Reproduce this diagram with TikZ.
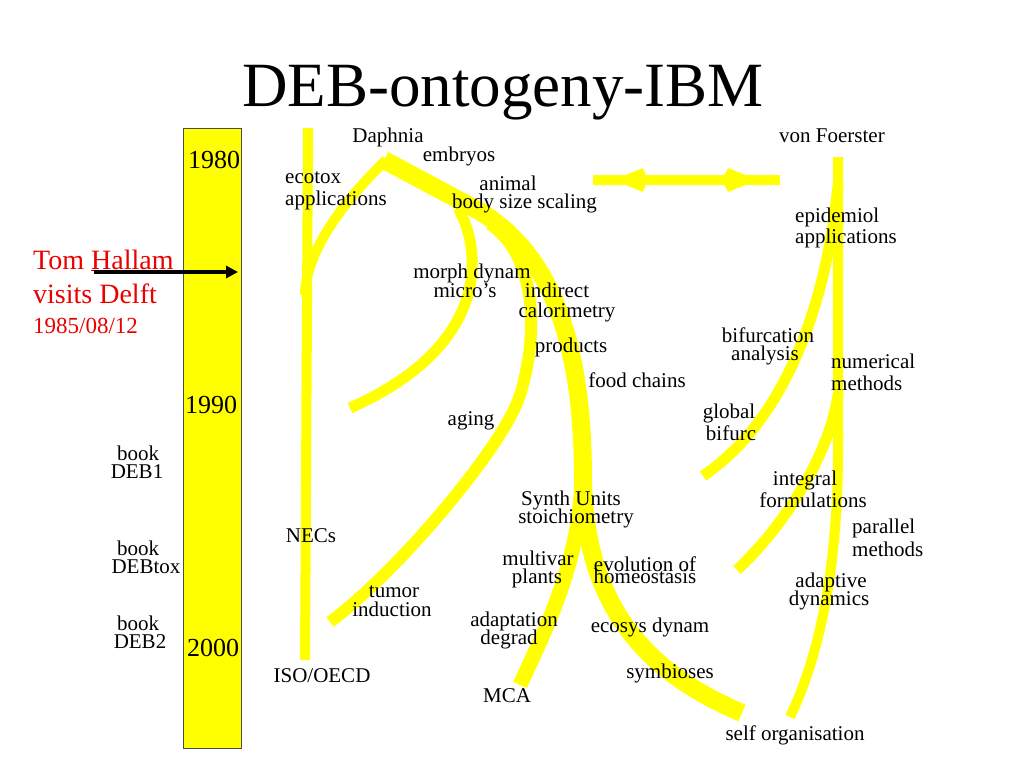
\documentclass[tikz,border=0pt]{standalone}
\usepackage{fontspec}
\setmainfont{Liberation Serif}
\usetikzlibrary{arrows.meta}
\definecolor{yel}{RGB}{255,255,0}
\definecolor{hred}{RGB}{235,0,0}
\begin{document}
\begin{tikzpicture}[x=1pt,y=-1pt,
  yband/.style={draw=yel, line width=#1, line cap=butt, line join=round},
  lbl/.style={font=\fontsize{21}{24}\selectfont, inner sep=0pt, anchor=base},
  lblw/.style={lbl, anchor=base west},
  yr/.style={font=\fontsize{26}{30}\selectfont, inner sep=0pt, anchor=base},
  redt/.style={text=hred, inner sep=0pt, anchor=base west, font=\fontsize{28}{32}\selectfont}]
\fill[white] (0,0) rectangle (1024,768);
\useasboundingbox (0,0) rectangle (1024,768);

% title
\node (title) [font=\fontsize{63}{70}\selectfont, inner sep=0pt, anchor=base] at (503,106) {DEB-ontogeny-IBM};

% time bar
\node (bar) [draw=black!70, fill=yel, line width=0.8pt, minimum width=58pt, minimum height=620pt, inner sep=0pt, anchor=north west] at (183,128) {};
\node (y1980) [yr] at (214,168) {1980};
\node (y1990) [yr] at (211,413) {1990};
\node (y2000) [yr] at (213,656) {2000};

% yellow branches
\draw[yband=10] (308,128) -- (305,660);
\draw[yband=10] (305,295) .. controls (306,250) and (345,200) .. (386,160);
\draw[yband=11] (458,208) .. controls (482,250) and (492,345) .. (350,408);
\draw[yband=12] (490,224) .. controls (535,255) and (540,330) .. (520,395)
                .. controls (505,444) and (400,570) .. (330,622);
\draw[yband=18] (384,160) -- (470,206) .. controls (555,250) and (583,350) .. (583,480)
                .. controls (585,600) and (640,670) .. (742,713);
\draw[yband=15] (582,470) .. controls (582,560) and (545,630) .. (520,685);
\draw[yband=10] (838,157) -- (838,450) .. controls (838,560) and (822,650) .. (790,717);
\draw[yband=11] (838,185) .. controls (830,270) and (800,410) .. (703,476);
\draw[yband=11] (838,395) .. controls (830,450) and (790,520) .. (737,570);

% double arrow
\draw[yband=10] (593,180) -- (780,180);
\fill[yel] (613,180) -- (643,168) -- (648,180) -- (643,192) -- cycle;
\fill[yel] (758,180) -- (728,168) -- (722,180) -- (728,192) -- cycle;

% red annotation
\node (tom) [redt] at (33,269) {Tom \underline{Hallam}};
\node (visits) [redt] at (33,303) {visits Delft};
\node (date) [redt, font=\fontsize{23}{26}\selectfont] at (33,333) {1985/08/12};
\coordinate (arrs) at (94,272);
\coordinate (arre) at (238,272);
\draw[line width=4pt, -{Triangle[length=12pt,width=12pt]}] (arrs) -- (arre);

% books
\node (book1) [lbl] at (138,460) {book};
\node (deb1) [lbl] at (137,478) {DEB1};
\node (book2) [lbl] at (138,555) {book};
\node (debtox) [lbl] at (146,573) {DEBtox};
\node (book3) [lbl] at (138,630) {book};
\node (deb2) [lbl] at (140,648) {DEB2};

% labels
\node (daphnia) [lbl] at (388,142) {Daphnia};
\node (embryos) [lbl] at (459,161) {embryos};
\node (ecotox) [lblw] at (285,183) {ecotox};
\node (appl1) [lblw] at (285,205) {applications};
\node (animal) [lbl] at (508,190) {animal};
\node (bodysize) [lbl] at (524.5,208) {body size scaling};
\node (vonf) [lbl] at (832,142) {von Foerster};
\node (epid) [lblw] at (795,222) {epidemiol};
\node (appl2) [lblw] at (795,243) {applications};
\node (morph) [lbl] at (472,278) {morph dynam};
\node (micros) [lbl] at (465,297) {micro’s};
\node (indirect) [lbl] at (557,297) {indirect};
\node (calor) [lbl] at (567,317) {calorimetry};
\node (products) [lbl] at (571,352) {products};
\node (food) [lbl] at (637,387) {food chains};
\node (bifa) [lbl] at (768,342) {bifurcation};
\node (analysis) [lbl] at (765,360) {analysis};
\node (numerical) [lblw] at (831,368) {numerical};
\node (methods1) [lblw] at (831,390) {methods};
\node (aging) [lbl] at (471,425) {aging};
\node (global) [lbl] at (729,418) {global};
\node (bifb) [lbl] at (731,440) {bifurc};
\node (integral) [lbl] at (805,485) {integral};
\node (formul) [lbl] at (813,507) {formulations};
\node (parallel) [lblw] at (852,533) {parallel};
\node (methods2) [lblw] at (852,556) {methods};
\node (synth) [lbl] at (571,505) {Synth Units};
\node (stoich) [lbl] at (576,523) {stoichiometry};
\node (necs) [lbl] at (311,542) {NECs};
\node (multivar) [lbl] at (538,565) {multivar};
\node (plants) [lbl] at (537,583) {plants};
\node (evol) [lbl] at (645,571) {evolution of};
\node (homeo) [lbl] at (645,583) {homeostasis};
\node (adaptive) [lbl] at (831,587) {adaptive};
\node (dynamics) [lbl] at (829,605) {dynamics};
\node (tumor) [lbl] at (394,597) {tumor};
\node (induction) [lbl] at (392,616) {induction};
\node (adaptation) [lbl] at (514,626) {adaptation};
\node (degrad) [lbl] at (509,644) {degrad};
\node (ecosys) [lbl] at (650,632) {ecosys dynam};
\node (iso) [lbl] at (322,682) {ISO/OECD};
\node (symb) [lbl] at (670,678) {symbioses};
\node (mca) [lbl] at (507,702) {MCA};
\node (selforg) [lbl] at (795,740) {self organisation};
\end{tikzpicture}
\end{document}
